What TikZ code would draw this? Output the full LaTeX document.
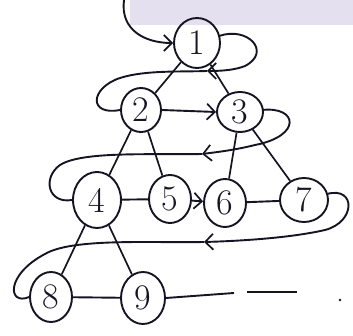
\documentclass[tikz,border=0pt]{standalone}
\usetikzlibrary{shapes.geometric,arrows.meta}
\definecolor{ink}{RGB}{20,20,35}
\definecolor{band}{RGB}{228,224,240}
\begin{document}
\begin{tikzpicture}[x=1pt,y=-1pt,
  tnode/.style={ellipse, draw=ink, line width=1.9pt, inner sep=0pt, text=ink,
                font=\fontsize{36}{36}\selectfont},
  edge/.style={draw=ink, line width=1.7pt},
  snake/.style={draw=ink, line width=1.9pt},
  arr/.style={-{Straight Barb[length=8pt,width=16pt,line width=1.7pt]}}]
\useasboundingbox (0,0) rectangle (353,336);
\fill[band] (130,0) rectangle (353,25);
% nodes
\node[tnode, minimum width=46pt, minimum height=50pt] (n1) at (197,43) {1};
\node[tnode, minimum width=40pt, minimum height=44pt] (n2) at (141,110) {2};
\node[tnode, minimum width=46pt, minimum height=40pt] (n3) at (240,112) {3};
\node[tnode, minimum width=48pt, minimum height=56pt] (n4) at (97,200) {4};
\node[tnode, minimum width=42pt, minimum height=48pt] (n5) at (170,199) {5};
\node[tnode, minimum width=42pt, minimum height=48pt] (n6) at (225,203) {6};
\node[tnode, minimum width=48pt, minimum height=44pt] (n7) at (304,200) {7};
\node[tnode, minimum width=42pt, minimum height=50pt] (n8) at (51,297) {8};
\node[tnode, minimum width=44pt, minimum height=52pt] (n9) at (143,298) {9};
% tree edges
\draw[edge] (n1) -- (n2);
\draw[edge] (n1) -- (n3);
\draw[edge] (n2) -- (n4);
\draw[edge] (n2) -- (n5);
\draw[edge] (n3) -- (n6);
\draw[edge] (n3) -- (n7);
\draw[edge] (n4) -- (n8);
\draw[edge] (n4) -- (n9);
% level-order snake
\coordinate (e0) at (124,0);
\draw[snake,arr] (e0) .. controls (120,30) and (145,43) .. (n1.west);
\coordinate (s1) at (219,36);
\coordinate (a1) at (207,71);
\draw[snake,arr] (s1) .. controls (248,26) and (272,52) .. (245,66)
  .. controls (235,70) and (222,71) .. (a1);
\draw[snake] (a1) .. controls (180,72) and (145,70) .. (120,78)
  .. controls (90,88) and (88,116) .. (n2.west);
\draw[snake,arr] (n2.east) -- (n3.west);
\coordinate (s2) at (262,110);
\coordinate (a2) at (202,154);
\draw[snake,arr] (s2) .. controls (298,106) and (302,136) .. (255,145)
  .. controls (235,150) and (218,152) .. (a2);
\draw[snake] (a2) .. controls (150,155) and (82,151) .. (60,165)
  .. controls (42,178) and (48,204) .. (n4.west);
\draw[snake] (n4) -- (n5);
\draw[snake,arr] (n5) -- (n6);
\draw[snake] (n6) -- (n7);
\coordinate (s3) at (327,194);
\coordinate (a3) at (204,242);
\draw[snake,arr] (s3) .. controls (356,186) and (356,222) .. (325,230)
  .. controls (290,238) and (240,241) .. (a3);
\draw[snake] (a3) .. controls (150,243) and (72,238) .. (45,254)
  .. controls (5,275) and (8,306) .. (n8.west);
\draw[snake] (n8) -- (n9);
\coordinate (d1) at (234,293);
\coordinate (d2) at (247,292);
\coordinate (d3) at (297,292);
\draw[snake] (n9.east) -- (d1);
\draw[snake] (d2) -- (d3);
\fill[ink] (340,300) circle (1.3pt);
\end{tikzpicture}
\end{document}
